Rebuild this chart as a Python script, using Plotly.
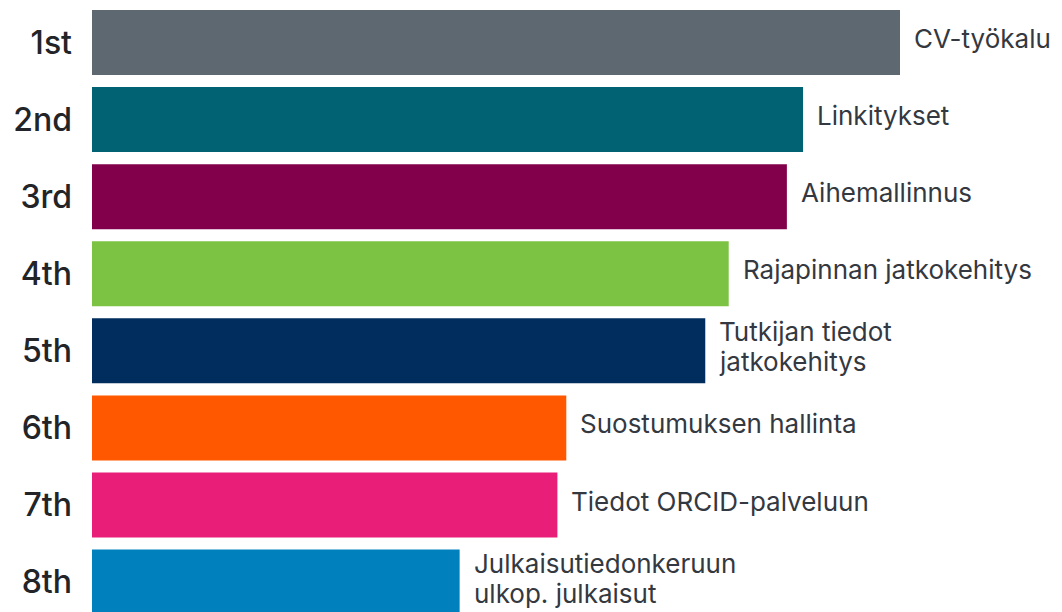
import plotly.graph_objects as go

ranks = ["1st", "2nd", "3rd", "4th", "5th", "6th", "7th", "8th"]
features = [
    "CV-työkalu",
    "Linkitykset",
    "Aihemallinnus",
    "Rajapinnan jatkokehitys",
    "Tutkijan tiedot<br>jatkokehitys",
    "Suostumuksen hallinta",
    "Tiedot ORCID-palveluun",
    "Julkaisutiedonkeruun<br>ulkop. julkaisut",
]
scores = [100, 88.0, 86.0, 78.8, 75.9, 58.7, 57.6, 45.5]
colors = ["#5e6870", "#006272", "#82004b", "#7cc243", "#002c5e", "#ff5800", "#e91e78", "#0081bd"]

positions = list(range(len(ranks)))

fig = go.Figure(
    go.Bar(
        x=scores,
        y=positions,
        orientation="h",
        marker=dict(color=colors, line=dict(width=0)),
        width=0.843,
        hoverinfo="skip",
    )
)

label_font = dict(family="Inter, Lato, sans-serif", size=26, color="#343840")
line_gap = 30
base_shift = 4
for p, s, f in zip(positions, scores, features):
    lines = f.split("<br>")
    n = len(lines)
    for k, line in enumerate(lines):
        offset = ((n - 1) / 2 - k) * line_gap
        fig.add_annotation(
            x=s, y=p, text=line, showarrow=False,
            xanchor="left", yanchor="middle", align="left",
            xshift=12, yshift=base_shift + offset,
            font=label_font,
        )

fig.update_layout(
    width=1054, height=604,
    margin=dict(l=84, r=0, t=0, b=0),
    paper_bgcolor="white", plot_bgcolor="white",
    showlegend=False,
    xaxis=dict(range=[0, 120.05], visible=False, showgrid=False, zeroline=False),
    yaxis=dict(
        range=[7.388, -0.4476],
        tickmode="array", tickvals=positions, ticktext=ranks,
        tickfont=dict(family="Inter, Lato, sans-serif", size=32, color="#222428", weight=500),
        ticklabelstandoff=19,
        showgrid=False, zeroline=False, showline=False, ticks="",
    ),
)

fig.write_html("out.html")
